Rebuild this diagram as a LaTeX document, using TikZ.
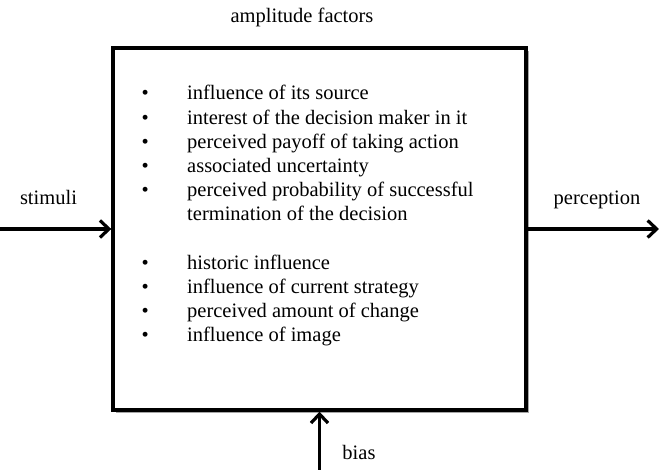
\documentclass[tikz,border=0pt]{standalone}
\usepackage{fontspec}
\setmainfont{Liberation Serif}
\usetikzlibrary{positioning, arrows.meta, shadows}

\begin{document}
\begin{tikzpicture}[
  x=1pt, y=-1pt,
  every node/.style={font=\fontsize{20.5}{24.2}\selectfont, inner sep=0pt},
  tag/.style={anchor=base},
  factorbox/.style={draw, line width=3.4pt, fill=white, minimum width=413pt, minimum height=362pt,
    drop shadow={shadow xshift=3pt, shadow yshift=-3pt, fill=black, opacity=0.35}},
  flow/.style={line width=3.2pt, -{Straight Barb[length=9pt, width=17pt]}}
]
\useasboundingbox (0,0) rectangle (659,470);

% Main block
\node[factorbox] (block) at (319.5,229) {};

% Amplitude factors inside the block
\node[anchor=base west] (factors) at (141.4,100) {%
  \begin{tabular}[t]{@{}p{45.6pt}@{}l@{}}
  \textbullet & influence of its source\\
  \textbullet & interest of the decision maker in it\\
  \textbullet & perceived payoff of taking action\\
  \textbullet & associated uncertainty\\
  \textbullet & perceived probability of successful\\
              & termination of the decision\\
              & \\
  \textbullet & historic influence\\
  \textbullet & influence of current strategy\\
  \textbullet & perceived amount of change\\
  \textbullet & influence of image
  \end{tabular}};

% Labels
\node[tag] (amplitude) at (302,23) {amplitude factors};
\node[tag] (stimuli) at (48.5,205) {stimuli};
\node[tag] (perception) at (597,205) {perception};
\node[tag] (bias) at (359,459) {bias};

% Free ends
\coordinate (source) at (0,229);
\coordinate (sink) at (659,229);
\coordinate (origin) at (319.5,470);

% Connections
\draw[flow] (source) -- (block.west);
\draw[flow] (block.east) -- (sink);
\draw[flow] (origin) -- (block.south);

\end{tikzpicture}
\end{document}
